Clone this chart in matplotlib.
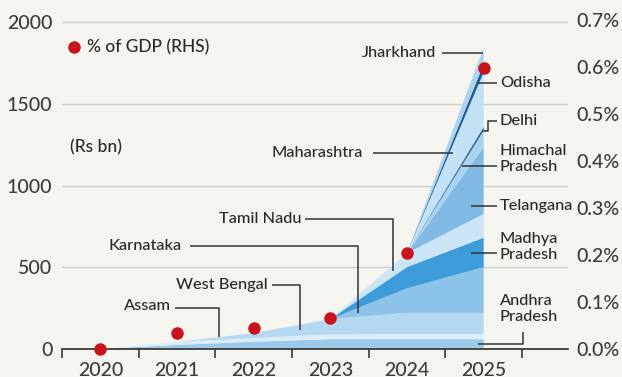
import matplotlib
matplotlib.use("Agg")
import matplotlib.pyplot as plt
from matplotlib.ticker import FixedLocator, FuncFormatter

plt.rcParams['font.family'] = ['Lato', 'DejaVu Sans']
plt.rcParams['font.weight'] = 500

# ---- data (Rs bn, stacked bottom to top) ----
years = [2020, 2021, 2022, 2023, 2024, 2025]
andhra_pradesh = [0, 25, 45, 60, 60, 60]
assam = [0, 18, 22, 30, 31, 31]
west_bengal = [0, 0, 30, 93, 130, 130]
karnataka = [0, 0, 0, 0, 150, 280]
madhya_pradesh = [0, 0, 0, 0, 130, 180]
tamil_nadu = [0, 0, 0, 0, 85, 145]
telangana = [0, 0, 0, 0, 0, 410]
himachal_pradesh = [0, 0, 0, 0, 0, 100]
delhi = [0, 0, 0, 0, 0, 22]
maharashtra = [0, 0, 0, 0, 0, 335]
odisha = [0, 0, 0, 0, 0, 50]
jharkhand = [0, 0, 0, 0, 0, 100]

# share of GDP, % (right-hand scale)
gdp_share = [0.0, 0.034, 0.045, 0.067, 0.204, 0.598]

left_ticks = [0, 500, 1000, 1500, 2000]
right_ticks = [0.0, 0.1, 0.2, 0.3, 0.4, 0.5, 0.6, 0.7]

layers = [andhra_pradesh, assam, west_bengal, karnataka, madhya_pradesh,
          tamil_nadu, telangana, himachal_pradesh, delhi, maharashtra,
          odisha, jharkhand]
colors = ['#9ccaea', '#dcedf9', '#b4d8f1', '#8dc3e9', '#3d9bd9',
          '#cbe5f7', '#80b9e3', '#a9d2ef', '#235f97', '#c2e0f6',
          '#1f5e95', '#aad3f1']

bg = '#f5f4ee'
ink = '#2a2a2a'
grid = '#cfcfc8'
tick_ink = '#3c3c3c'

fig = plt.figure(figsize=(6.22, 3.77), dpi=100, facecolor=bg)
ax = fig.add_axes([62 / 622, 28 / 377, 506 / 622, 334 / 377])
ax.set_facecolor(bg)

ymax = 2043
ax.set_xlim(2019.5, 2026.1)
ax.set_ylim(0, ymax)

ax.stackplot(years, *layers, colors=colors, linewidth=0, zorder=2)

# horizontal gridlines
for v in left_ticks[1:]:
    ax.axhline(v, color=grid, lw=1.0, zorder=1)

for s in ['top', 'right', 'left']:
    ax.spines[s].set_visible(False)
ax.spines['bottom'].set_color('#3a3a3a')
ax.spines['bottom'].set_linewidth(1.3)
ax.spines['bottom'].set_zorder(5)

# separators between years as major ticks, year labels on minor ticks
ax.xaxis.set_major_locator(FixedLocator([y - 0.5 for y in years] + [years[-1] + 0.5]))
ax.xaxis.set_major_formatter(FuncFormatter(lambda v, p: ''))
ax.xaxis.set_minor_locator(FixedLocator(years))
ax.xaxis.set_minor_formatter(FuncFormatter(lambda v, p: f'{int(round(v))}'))
ax.tick_params(axis='x', which='major', length=6.5, width=1.2, color='#3a3a3a')
ax.tick_params(axis='x', which='minor', length=0, pad=9, labelsize=14, labelcolor=tick_ink)

ax.set_yticks(left_ticks)
ax.set_yticklabels([str(v) for v in left_ticks])
ax.tick_params(axis='y', length=0, pad=7, labelsize=14, labelcolor=tick_ink)

# right-hand axis for share of GDP
ax2 = ax.twinx()
ax2.set_ylim(0, ymax / 2875)
for s in ['top', 'right', 'left', 'bottom']:
    ax2.spines[s].set_visible(False)
ax2.set_yticks(right_ticks)
ax2.set_yticklabels([f'{v:.1f}%' for v in right_ticks])
ax2.tick_params(axis='y', length=0, pad=6, labelsize=14, labelcolor=tick_ink)
ax2.plot(years, gdp_share, 'o', color='#c8141c', ms=8, zorder=6, clip_on=False)

# legend and unit
ax.plot([2019.66], [1845], 'o', color='#c8141c', ms=8, clip_on=False, zorder=6)
ax.text(2019.82, 1845, '% of GDP (RHS)', fontsize=12.5, color=ink, va='center', ha='left')
ax.text(2019.6, 1235, '(Rs bn)', fontsize=12.5, color=ink, va='center', ha='left')

lk = dict(color='#333333', lw=1.1, zorder=4, solid_capstyle='butt')
fs = 11.8
ls = 1.2

# left-side labels with elbow leaders
ax.text(2020.92, 264, 'Assam', fontsize=fs, color=ink, ha='right', va='center')
ax.plot([2020.97, 2021.55, 2021.55], [251, 251, 73], **lk)

ax.text(2022.18, 391, 'West Bengal', fontsize=fs, color=ink, ha='right', va='center')
ax.plot([2022.24, 2022.60, 2022.60], [391, 391, 116], **lk)

ax.text(2021.06, 630, 'Karnataka', fontsize=fs, color=ink, ha='right', va='center')
ax.plot([2021.17, 2023.36, 2023.36], [630, 630, 220], **lk)

ax.text(2022.62, 795, 'Tamil Nadu', fontsize=fs, color=ink, ha='right', va='center')
ax.plot([2022.67, 2023.82, 2023.82], [795, 795, 477], **lk)

ax.text(2023.42, 1199, 'Maharashtra', fontsize=fs, color=ink, ha='right', va='center')
ax.plot([2023.55, 2024.60], [1199, 1199], **lk)

ax.text(2024.38, 1810, 'Jharkhand', fontsize=fs, color=ink, ha='right', va='center')
ax.plot([2024.45, 2024.99], [1810, 1810], **lk)

# right-side labels
tx = 2025.21
ax.text(tx, 1627, 'Odisha', fontsize=fs, color=ink, ha='left', va='center')
ax.plot([2024.91, 2025.17], [1627, 1627], **lk)

ax.text(tx, 1394, 'Delhi', fontsize=fs, color=ink, ha='left', va='center')
ax.plot([2025.17, 2025.06, 2025.06, 2024.99], [1394, 1394, 1333, 1333], **lk)

ax.text(tx, 1160, 'Himachal\nPradesh', fontsize=fs, color=ink, ha='left', va='center',
        linespacing=ls)
ax.plot([2024.72, 2025.17], [1119, 1119], **lk)

ax.text(tx, 875, 'Telangana', fontsize=fs, color=ink, ha='left', va='center')
ax.plot([2024.83, 2025.17], [875, 875], **lk)

ax.text(tx, 625, 'Madhya\nPradesh', fontsize=fs, color=ink, ha='left', va='center',
        linespacing=ls)
ax.plot([2024.83, 2025.17], [587, 587], **lk)

ax.text(tx, 245, 'Andhra\nPradesh', fontsize=fs, color=ink, ha='left', va='center',
        linespacing=ls)
ax.plot([2025.51, 2025.51, 2024.92], [104, 31, 31], **lk)

fig.savefig('out.png', dpi=100, facecolor=bg)
